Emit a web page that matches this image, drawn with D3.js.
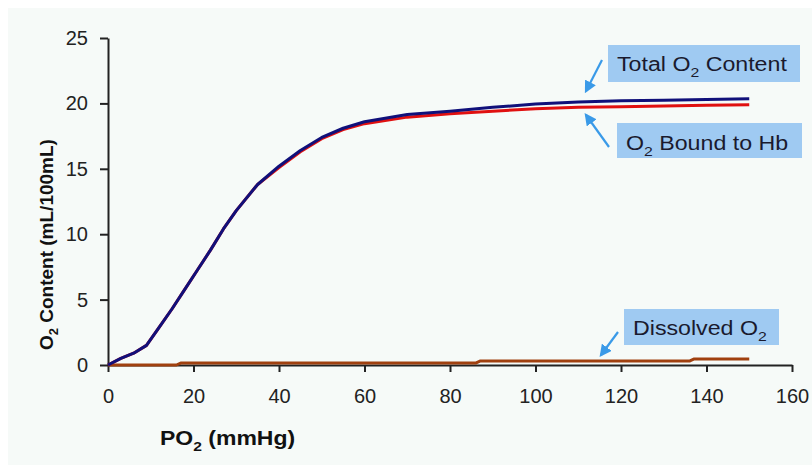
<!DOCTYPE html>
<html>
<head>
<meta charset="utf-8">
<script src="https://cdn.jsdelivr.net/npm/d3@7"></script>
<style>
  html, body { margin: 0; padding: 0; background: #ffffff; }
  svg { display: block; }
  text { font-family: "Liberation Sans", Arial, sans-serif; }
</style>
</head>
<body>
<svg id="chart" width="812" height="465"></svg>
<script>
// Oxygen content of blood vs. partial pressure of oxygen
const po2 =      [0, 3, 6, 9, 12, 15, 18, 21, 24, 27, 30, 35, 40, 45, 50, 55, 60, 70, 80, 90, 100, 110, 120, 130, 140, 150];
const totalO2 =  [0, 0.5, 0.9, 1.5, 2.9, 4.3, 5.8, 7.3, 8.8, 10.4, 11.8, 13.8, 15.2, 16.4, 17.4, 18.1, 18.6, 19.15, 19.4, 19.7, 19.95, 20.1, 20.2, 20.25, 20.3, 20.35];
const boundHb =  [0, 0.5, 0.9, 1.5, 2.9, 4.3, 5.8, 7.3, 8.8, 10.4, 11.8, 13.8, 15.1, 16.3, 17.3, 18.0, 18.45, 18.95, 19.2, 19.4, 19.6, 19.7, 19.75, 19.8, 19.85, 19.9];
const dissolvedPo2 = [0, 16, 17, 86, 87, 136, 137, 150];
const dissolvedO2 =  [0, 0, 0.15, 0.15, 0.3, 0.3, 0.45, 0.45];
const xTicks = [0, 20, 40, 60, 80, 100, 120, 140, 160];
const yTicks = [0, 5, 10, 15, 20, 25];

const svg = d3.select("#chart");
const plot = { left: 108, right: 792, top: 38, bottom: 365 };

// page backdrop
svg.append("rect").attr("x", 8).attr("y", 8).attr("width", 804).attr("height", 457).attr("fill", "#f6faf8");

const x = d3.scaleLinear().domain([0, 160]).range([plot.left, plot.right]);
const y = d3.scaleLinear().domain([0, 25]).range([plot.bottom, plot.top]);

// axes
const xAxis = svg.append("g").attr("transform", `translate(0,${plot.bottom})`)
  .call(d3.axisBottom(x).tickValues(xTicks).tickSize(7).tickPadding(17).tickSizeOuter(0));
const yAxis = svg.append("g").attr("transform", `translate(${plot.left},0)`)
  .call(d3.axisLeft(y).tickValues(yTicks).tickSize(8).tickPadding(12).tickSizeOuter(0));
[xAxis, yAxis].forEach(g => {
  g.select(".domain").attr("stroke", "#222").attr("stroke-width", 2);
  g.selectAll(".tick line").attr("stroke", "#222").attr("stroke-width", 2);
  g.selectAll(".tick text").attr("fill", "#222").attr("font-size", 20)
    .attr("font-family", "'Liberation Sans', Arial, sans-serif");
});

// series
const line = d3.line().x(d => x(d[0])).y(d => y(d[1]));
const series = [
  { xs: dissolvedPo2, ys: dissolvedO2, color: "#a0400f" },
  { xs: po2, ys: boundHb, color: "#e01010" },
  { xs: po2, ys: totalO2, color: "#10107a" }
];
series.forEach(s => {
  svg.append("path")
    .datum(s.xs.map((v, i) => [v, s.ys[i]]))
    .attr("d", line)
    .attr("fill", "none")
    .attr("stroke", s.color)
    .attr("stroke-width", 3)
    .attr("stroke-linejoin", "round");
});

// text with a subscript "2", drawn slightly widened
function subText(parent, px, py, parts, size, weight, fill, sx) {
  const t = parent.append("text")
    .attr("transform", `translate(${px},${py}) scale(${sx},1)`)
    .attr("font-size", size).attr("font-weight", weight).attr("fill", fill);
  t.append("tspan").text(parts[0]);
  t.append("tspan").attr("font-size", size * 0.68).attr("dy", size * 0.28).text(parts[1]);
  if (parts[2]) t.append("tspan").attr("dy", -size * 0.28).text(parts[2]);
  return t;
}

// axis titles
subText(svg, 160, 445, ["PO", "2", " (mmHg)"], 20, "bold", "#111", 1.15);
const yTitleG = svg.append("g").attr("transform", "translate(53,350) rotate(-90)");
subText(yTitleG, 0, 0, ["O", "2", " Content (mL/100mL)"], 19, "bold", "#111", 1);

// callout labels
const callouts = [
  { box: [608, 45, 192, 37], tx: 617, ty: 71, parts: ["Total O", "2", " Content"],
    arrow: [602, 60, 586, 91] },
  { box: [617, 123, 185, 35], tx: 626, ty: 150, parts: ["O", "2", " Bound to Hb"],
    arrow: [609, 147, 586, 115] },
  { box: [624, 309, 155, 36], tx: 633, ty: 335, parts: ["Dissolved O", "2", ""],
    arrow: [618, 332, 601, 355] }
];
const defs = svg.append("defs");
defs.append("marker").attr("id", "head").attr("viewBox", "0 0 10 10")
  .attr("refX", 8).attr("refY", 5).attr("markerWidth", 5.5).attr("markerHeight", 5.5)
  .attr("orient", "auto")
  .append("path").attr("d", "M0,0 L10,5 L0,10 Z").attr("fill", "#3a9ae8");

callouts.forEach(c => {
  svg.append("rect").attr("x", c.box[0]).attr("y", c.box[1])
    .attr("width", c.box[2]).attr("height", c.box[3]).attr("fill", "#9fcaf2");
  subText(svg, c.tx, c.ty, c.parts, 20, "normal", "#1a1a2e", 1.16);
  svg.append("line")
    .attr("x1", c.arrow[0]).attr("y1", c.arrow[1]).attr("x2", c.arrow[2]).attr("y2", c.arrow[3])
    .attr("stroke", "#3a9ae8").attr("stroke-width", 2.2).attr("marker-end", "url(#head)");
});
</script>
</body>
</html>
